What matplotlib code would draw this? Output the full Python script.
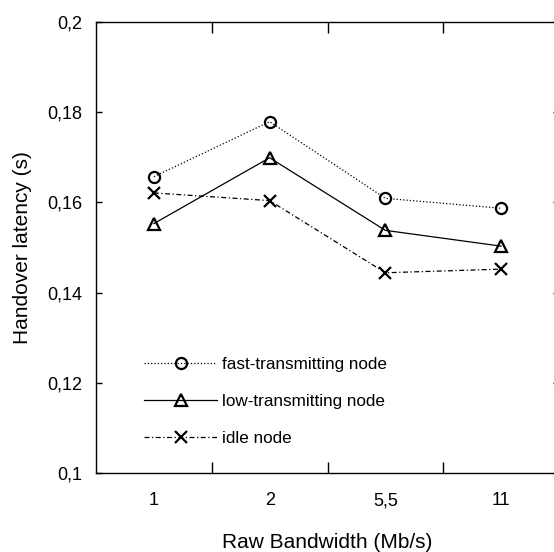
import numpy as np
import matplotlib.pyplot as plt
from matplotlib.ticker import FuncFormatter, FixedLocator

from matplotlib import rcParams
rcParams.update({'font.family': 'Liberation Sans', 'font.size': 12})

bandwidth = ['1', '2', '5,5', '11']
fast_node = [0.1657, 0.1779, 0.1609, 0.1587]
low_node = [0.1553, 0.1699, 0.1538, 0.1503]
idle_node = [0.1621, 0.1604, 0.1444, 0.1452]

ind = np.arange(1, len(bandwidth) + 1)

fig = plt.figure(figsize=(5.54, 5.52), dpi=100)
ax = fig.add_axes([96 / 554, 1 - 473 / 552, 463 / 554, 451 / 552])

ax.plot(ind, fast_node, linestyle=':', color='k', lw=0.9, marker='o', ms=8,
        mfc='none', mec='k', mew=1.6, label='fast-transmitting node')
ax.plot(ind, low_node, linestyle='-', color='k', lw=0.9, marker='^', ms=9,
        mfc='none', mec='k', mew=1.6, label='low-transmitting node')
ax.plot(ind, idle_node, linestyle=(0, (4, 2, 1, 2)), color='k', lw=0.9,
        marker='x', ms=8, mec='k', mew=1.6, label='idle node')

ax.set_xlim(0.5, 4.5)
ax.set_ylim(0.1, 0.2)

# category labels sit between the tick marks
ax.xaxis.set_major_locator(FixedLocator(ind))
ax.set_xticklabels(bandwidth)
ax.xaxis.set_minor_locator(FixedLocator(ind[:-1] + 0.5))
ax.tick_params(axis='x', which='major', length=0, pad=14, labelsize=13)
ax.tick_params(axis='x', which='minor', direction='in', length=8, width=1,
               top=True, bottom=True)

ax.set_yticks(np.arange(0.1, 0.2001, 0.02))
ax.yaxis.set_major_formatter(FuncFormatter(lambda v, p: ('%g' % round(v, 2)).replace('.', ',')))
ax.tick_params(axis='y', direction='in', length=4, width=1, left=True, right=True,
               pad=10, labelsize=13)

for s in ax.spines.values():
    s.set_linewidth(1.0)

ax.set_xlabel('Raw Bandwidth (Mb/s)', fontsize=15, labelpad=17)
ax.set_ylabel('Handover latency (s)', fontsize=15, labelpad=11)

ax.legend(loc='lower left', bbox_to_anchor=(0.07, 0.025), frameon=False,
          handlelength=4.3, handletextpad=0.3, labelspacing=1.3, fontsize=12.3)

fig.savefig('out.png', dpi=100)
